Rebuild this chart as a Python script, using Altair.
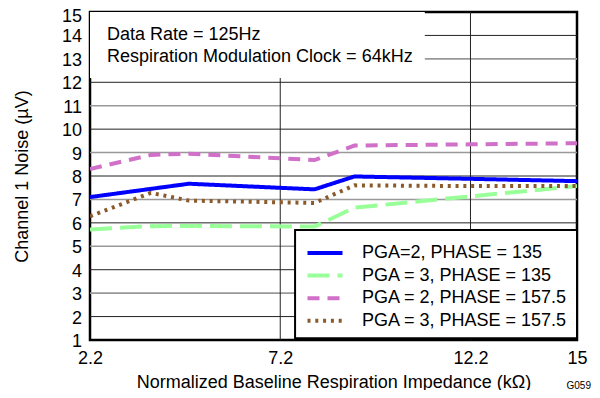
import altair as alt
import pandas as pd

# ---- data ----
series_names = [
    "PGA=2, PHASE = 135",
    "PGA = 3, PHASE = 135",
    "PGA = 2, PHASE = 157.5",
    "PGA = 3, PHASE = 157.5",
]
x_blue = [2.2, 4.8, 8.1, 9.15, 12.2, 15]
y_blue = [7.1, 7.67, 7.43, 7.98, 7.88, 7.78]
x_green = [2.2, 3.8, 4.8, 8.1, 9.15, 12.2, 15]
y_green = [5.72, 5.86, 5.87, 5.84, 6.65, 7.13, 7.57]
x_pink = [2.2, 3.8, 4.8, 8.1, 9.15, 12.2, 15]
y_pink = [8.3, 8.9, 8.95, 8.68, 9.3, 9.35, 9.4]
x_brown = [2.2, 3.8, 4.8, 8.1, 9.15, 12.2, 15]
y_brown = [6.28, 7.28, 6.95, 6.85, 7.6, 7.57, 7.57]

x_ticks = [2.2, 7.2, 12.2, 15]
y_ticks = list(range(1, 16))
grid_dark = [2, 4, 6, 8, 10, 12, 14]
grid_light = [3, 5, 7, 9, 11, 13]
grid_vertical = [7.2, 12.2]

note_lines = ["Data Rate = 125Hz", "Respiration Modulation Clock = 64kHz"]
note_box_x = [2.2, 11.0]
note_box_y = [12.18, 15]
legend_box_x = [7.59, 15]
legend_box_y = [1.08, 5.69]
fig_id = "G059"

colors = ["#0000FF", "#99FF99", "#D070C8", "#8B5A2B"]
dashes = [[1, 0], [22, 8], [12, 8], [3, 4.8]]

FONT = "Liberation Sans"

rows = []
for name, xs, ys in zip(series_names, [x_blue, x_green, x_pink, x_brown],
                        [y_blue, y_green, y_pink, y_brown]):
    for xv, yv in zip(xs, ys):
        rows.append({"x": xv, "y": yv, "series": name})
df = pd.DataFrame(rows)

xscale = alt.Scale(domain=[2.2, 15], nice=False, zero=False)
yscale = alt.Scale(domain=[1, 15], nice=False, zero=False)

xaxis = alt.Axis(values=x_ticks, labelExpr="replace(format(datum.value, '.1f'), '15.0', '15')",
                 title="Normalized Baseline Respiration Impedance (kΩ)",
                 grid=False, ticks=False, tickSize=0, domain=False, labelFontSize=18, labelFont=FONT,
                 labelColor="black", labelPadding=23, labelBaseline="alphabetic", labelFlush=False,
                 labelOverlap=False, labelLimit=200, titleFontSize=18, titleFont=FONT,
                 titleFontWeight="normal", titleColor="black", titleY=47, titleBaseline="alphabetic")
yaxis = alt.Axis(values=y_ticks, title="Channel 1 Noise (µV)", grid=False, ticks=False, tickSize=0,
                 domain=False, labels=False, titleFontSize=18, titleFont=FONT,
                 titleFontWeight="normal", titleColor="black", titleX=-68, titleY=164,
                 titleAlign="center", titleBaseline="middle")

X = alt.X("x:Q", scale=xscale, axis=xaxis)
Y = alt.Y("y:Q", scale=yscale, axis=yaxis)

dark = alt.Chart(pd.DataFrame({"y": grid_dark})).mark_rule(color="#222222", strokeWidth=1).encode(y=Y)
light = alt.Chart(pd.DataFrame({"y": grid_light})).mark_rule(color="#999999", strokeWidth=1.6).encode(y=Y)
vert = alt.Chart(pd.DataFrame({"x": grid_vertical})).mark_rule(color="#222222", strokeWidth=1).encode(x=X)

ylab_df = pd.DataFrame({"y": y_ticks, "t": [str(v) for v in y_ticks]})
ylabels = alt.Chart(ylab_df[ylab_df["y"] < 15]).mark_text(
    align="right", baseline="middle", fontSize=18, font=FONT, color="black", dy=2
).encode(y=Y, x=alt.value(-8), text="t:N")
ylabel_top = alt.Chart(ylab_df[ylab_df["y"] == 15]).mark_text(
    align="right", baseline="middle", fontSize=18, font=FONT, color="black", dy=4.5
).encode(y=Y, x=alt.value(-8), text="t:N")

box = alt.Chart(pd.DataFrame({"x": [note_box_x[0]], "x2": [note_box_x[1]],
                              "y": [note_box_y[0]], "y2": [note_box_y[1]]})).mark_rect(
    fill="white").encode(x=X, x2="x2:Q", y=Y, y2="y2:Q")

note1 = alt.Chart(pd.DataFrame({"t": [note_lines[0]]})).mark_text(
    align="left", baseline="alphabetic", fontSize=18, font=FONT, color="black"
).encode(x=alt.value(17), y=alt.value(28), text="t:N")
note2 = alt.Chart(pd.DataFrame({"t": [note_lines[1]]})).mark_text(
    align="left", baseline="alphabetic", fontSize=18, font=FONT, color="black"
).encode(x=alt.value(17), y=alt.value(49.5), text="t:N")

leg = alt.Legend(title=None, orient="none", legendX=226, legendY=232, direction="vertical",
                 symbolType="M-2.5,0L2.5,0", symbolSize=196, symbolStrokeWidth=4,
                 symbolFillColor="transparent",
                 labelFontSize=18, labelFont=FONT, labelColor="black", labelOffset=28,
                 labelLimit=400, padding=0, rowPadding=4.6)

lines = alt.Chart(df).mark_line(strokeWidth=4, clip=True).encode(
    x=X, y=Y,
    color=alt.Color("series:N", scale=alt.Scale(domain=series_names, range=colors), legend=leg,
                    sort=series_names),
    strokeDash=alt.StrokeDash("series:N", scale=alt.Scale(domain=series_names, range=dashes),
                              legend=leg, sort=series_names),
)

legbox = alt.Chart(pd.DataFrame({"x": [legend_box_x[0]], "x2": [legend_box_x[1]],
                                 "y": [legend_box_y[0]], "y2": [legend_box_y[1]]})).mark_rect(
    fill="white", stroke="black", strokeWidth=2).encode(x=X, x2="x2:Q", y=Y, y2="y2:Q")

gid = alt.Chart(pd.DataFrame({"t": [fig_id]})).mark_text(
    align="right", baseline="alphabetic", fontSize=10, font=FONT, color="black"
).encode(x=alt.value(501), y=alt.value(377), text="t:N")

chart = alt.layer(dark, light, vert, ylabels, ylabel_top, box, note1, note2, lines, legbox, gid).properties(
    width=487, height=328,
    padding={"left": 82, "top": 4, "right": 15, "bottom": 50},
    autosize=alt.AutoSizeParams(type="none"),
).configure_view(stroke="black", strokeWidth=2.5)

chart.save("out.html", embed_options={"renderer": "svg", "actions": False})
